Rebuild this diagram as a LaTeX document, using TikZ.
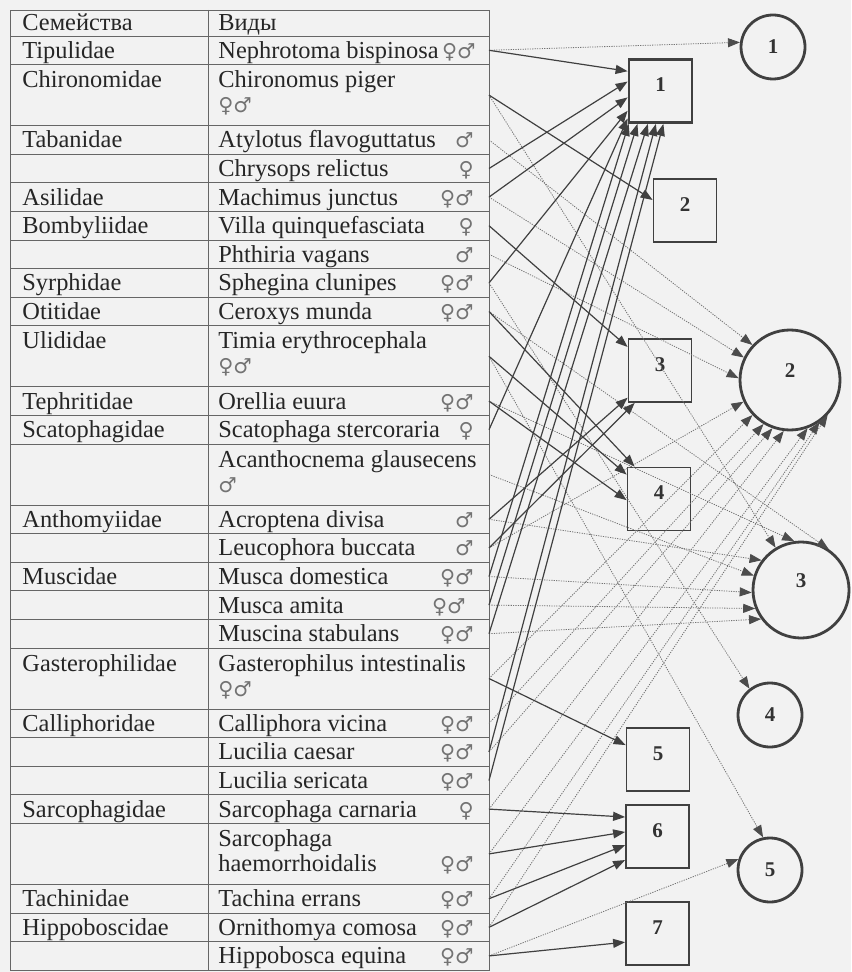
\documentclass[tikz,border=0pt]{standalone}
\usepackage{fontspec}
\setmainfont{Liberation Serif}
\newfontfamily\symfont{DejaVu Sans}
\usetikzlibrary{arrows.meta}

\begin{document}
\begin{tikzpicture}[
    x=0.5pt, y=-0.5pt,
    txt/.style={anchor=base west,inner sep=0pt,font=\fontsize{12.2}{14}\selectfont,text=black!85},
    sex/.style={anchor=base east,inner sep=0pt,font=\symfont\fontsize{10.3}{12}\selectfont,text=black!55},
    sexl/.style={sex,anchor=base west},
    grid/.style={draw=black!60,line width=0.45pt},
    box/.style={rectangle,draw=black!75,line width=0.9pt,minimum size=31.5pt,inner sep=0pt,
                font=\fontsize{10.5}{10.5}\selectfont\bfseries,text=black!80,text depth=6pt},
    ring/.style={circle,draw=black!75,line width=1.4pt,minimum size=#1,inner sep=0pt,
                 font=\fontsize{10.5}{10.5}\selectfont\bfseries,text=black!80},
    ring/.default=32pt,
    host/.style={-{Triangle[length=6pt,width=4.5pt]},draw=black!75,line width=0.6pt},
    link/.style={-{Triangle[length=6pt,width=4.5pt,color=black!70]},draw=black!55,
                 line width=0.4pt,dash pattern=on 0.6pt off 0.6pt}
]
    \path[use as bounding box,fill=black!5] (0,0) rectangle (851,972);

    % table frame
    \draw[grid] (10,10) rectangle (489,970.2);
    \draw[grid] (208,10) -- (208,970.2);
    \foreach \y in {36,64.6,125.6,154.2,182.8,211.4,240,268.6,297.2,325.8,386.8,415.4,444,
                    505,533.6,562.2,590.8,619.4,648,709,737.6,766.2,794.8,823.4,884.4,913,941.6}
        \draw[grid] (10,\y) -- (489,\y);

    % header
    \node[txt] (h-fam) at (22,31) {Семейства};
    \node[txt] (h-sp)  at (218,31) {Виды};

    % families
    \node[txt] (f-tipu) at (22,58.3)  {Tipulidae};
    \node[txt] (f-chir) at (22,87.6)  {Chironomidae};
    \node[txt] (f-taba) at (22,147.9) {Tabanidae};
    \node[txt] (f-asil) at (22,205.1) {Asilidae};
    \node[txt] (f-bomb) at (22,233.7) {Bombyliidae};
    \node[txt] (f-syrp) at (22,290.9) {Syrphidae};
    \node[txt] (f-otit) at (22,319.5) {Otitidae};
    \node[txt] (f-ulid) at (22,348.8) {Ulididae};
    \node[txt] (f-teph) at (22,409.1) {Tephritidae};
    \node[txt] (f-scat) at (22,437.7) {Scatophagidae};
    \node[txt] (f-anth) at (22,527.3) {Anthomyiidae};
    \node[txt] (f-musc) at (22,584.5) {Muscidae};
    \node[txt] (f-gast) at (22,671)   {Gasterophilidae};
    \node[txt] (f-call) at (22,731.3) {Calliphoridae};
    \node[txt] (f-sarc) at (22,817.1) {Sarcophagidae};
    \node[txt] (f-tach) at (22,906.7) {Tachinidae};
    \node[txt] (f-hipp) at (22,935.3) {Hippoboscidae};

    % species with sex marks
    \node[txt] (neph) at (218,58.3)  {Nephrotoma bispinosa};    \node[sex] (neph-x) at (476,58.3)  {♀♂};
    \node[txt] (chir) at (218,87.6)  {Chironomus piger};        \node[sexl] (chir-x) at (218,112.6) {♀♂};
    \node[txt] (atyl) at (218,147.9) {Atylotus flavoguttatus};  \node[sex] (atyl-x) at (474,147.9) {♂};
    \node[txt] (chry) at (218,176.5) {Chrysops relictus};       \node[sex] (chry-x) at (474,176.5) {♀};
    \node[txt] (mach) at (218,205.1) {Machimus junctus};        \node[sex] (mach-x) at (474,205.1) {♀♂};
    \node[txt] (vill) at (218,233.7) {Villa quinquefasciata};   \node[sex] (vill-x) at (474,233.7) {♀};
    \node[txt] (phth) at (218,262.3) {Phthiria vagans};         \node[sex] (phth-x) at (474,262.3) {♂};
    \node[txt] (sphe) at (218,290.9) {Sphegina clunipes};       \node[sex] (sphe-x) at (474,290.9) {♀♂};
    \node[txt] (cero) at (218,319.5) {Ceroxys munda};           \node[sex] (cero-x) at (474,319.5) {♀♂};
    \node[txt] (timi) at (218,348.8) {Timia erythrocephala};    \node[sexl] (timi-x) at (218,373.8) {♀♂};
    \node[txt] (orel) at (218,409.1) {Orellia euura};           \node[sex] (orel-x) at (474,409.1) {♀♂};
    \node[txt] (scat) at (218,437.7) {Scatophaga stercoraria};  \node[sex] (scat-x) at (474,437.7) {♀};
    \node[txt] (acan) at (218,467)   {Acanthocnema glausecens}; \node[sexl] (acan-x) at (218,492) {♂};
    \node[txt] (acro) at (218,527.3) {Acroptena divisa};        \node[sex] (acro-x) at (474,527.3) {♂};
    \node[txt] (leuc) at (218,555.9) {Leucophora buccata};      \node[sex] (leuc-x) at (474,555.9) {♂};
    \node[txt] (musd) at (218,584.5) {Musca domestica};         \node[sex] (musd-x) at (474,584.5) {♀♂};
    \node[txt] (amit) at (218,613.1) {Musca amita};             \node[sex] (amit-x) at (466,613.1) {♀♂};
    \node[txt] (musc) at (218,641.7) {Muscina stabulans};       \node[sex] (musc-x) at (474,641.7) {♀♂};
    \node[txt] (gast) at (218,671)   {Gasterophilus intestinalis}; \node[sexl] (gast-x) at (218,696) {♀♂};
    \node[txt] (call) at (218,731.3) {Calliphora vicina};       \node[sex] (call-x) at (474,731.3) {♀♂};
    \node[txt] (caes) at (218,759.9) {Lucilia caesar};          \node[sex] (caes-x) at (474,759.9) {♀♂};
    \node[txt] (seri) at (218,788.5) {Lucilia sericata};        \node[sex] (seri-x) at (474,788.5) {♀♂};
    \node[txt] (carn) at (218,817.1) {Sarcophaga carnaria};     \node[sex] (carn-x) at (474,817.1) {♀};
    \node[txt] (haem) at (218,846.4) {Sarcophaga};
    \node[txt] (haem-b) at (218,871.4) {haemorrhoidalis};       \node[sex] (haem-x) at (474,871.4) {♀♂};
    \node[txt] (tach) at (218,906.7) {Tachina errans};          \node[sex] (tach-x) at (474,906.7) {♀♂};
    \node[txt] (orni) at (218,935.3) {Ornithomya comosa};       \node[sex] (orni-x) at (474,935.3) {♀♂};
    \node[txt] (hipp) at (218,963.9) {Hippobosca equina};       \node[sex] (hipp-x) at (474,963.9) {♀♂};

    % row exits on the right border
    \foreach \n/\y in {neph/50.3,chir/95.1,atyl/139.9,chry/168.5,mach/197.1,vill/225.7,
                       phth/254.3,sphe/282.9,cero/311.5,timi/356.3,orel/401.1,scat/429.7,
                       acan/474.5,acro/519.3,leuc/547.9,musd/576.5,amit/605.1,musc/633.7,
                       gast/678.5,call/723.3,caes/751.9,seri/780.5,carn/809.1,haem/853.9,
                       tach/898.7,orni/927.3,hipp/955.9}
        \coordinate (\n-e) at (489,\y);

    % groups (squares) and circles
    \node[box,line width=1.4pt] (sq1) at (660.5,91) {1};
    \node[box] (sq2) at (685,210.5)   {2};
    \node[box] (sq3) at (660,370.5)   {3};
    \node[box] (sq4) at (659,499)     {4};
    \node[box] (sq5) at (658,759.5)   {5};
    \node[box] (sq6) at (657.5,836.5) {6};
    \node[box] (sq7) at (657.5,933.5) {7};
    \node[ring] (c1) at (773,47)  {1};
    \node[ring=50pt,text depth=9pt] (c2) at (790,380) {2};
    \node[ring=48pt,text depth=9pt] (c3) at (801,590) {3};
    \node[ring] (c4) at (770,715) {4};
    \node[ring] (c5) at (770,870) {5};

    % dotted links to circles
    \draw[link] (neph-e) -- (c1.172);
    \draw[link] (atyl-e) -- (c2.137);
    \draw[link] (mach-e) -- (c2.154);
    \draw[link] (phth-e) -- (c2.178);
    \draw[link] (leuc-e) -- (c2.205);
    \draw[link] (gast-e) -- (c2.223);
    \draw[link] (call-e) -- (c2.239);
    \draw[link] (caes-e) -- (c2.250);
    \draw[link] (carn-e) -- (c2.263);
    \draw[link] (haem-e) -- (c2.290);
    \draw[link] (tach-e) -- (c2.305);
    \draw[link] (orni-e) -- (c2.317);
    \draw[link] (chir-e) -- (c3.121);
    \draw[link] (orel-e) -- (c3.98);
    \draw[link] (cero-e) -- (c3.56);
    \draw[link] (acro-e) -- (c3.143);
    \draw[link] (acan-e) -- (c3.163);
    \draw[link] (musd-e) -- (c3.183);
    \draw[link] (amit-e) -- (c3.202);
    \draw[link] (musc-e) -- (c3.216);
    \draw[link] (sphe-e) -- (c4.128);
    \draw[link] (timi-e) -- (c5.102);
    \draw[link] (hipp-e) -- (c5.161);

    % solid arrows to squares
    \draw[host] (neph-e) -- (sq1.149);
    \draw[host] (chry-e) -- (sq1.164);
    \draw[host] (mach-e) -- (sq1.191);
    \draw[host] (sphe-e) -- (sq1.211);
    \draw[host] (scat-e) -- (sq1.220);
    \draw[host] (musd-e) -- (sq1.226);
    \draw[host] (amit-e) -- (sq1.235);
    \draw[host] (musc-e) -- (sq1.249);
    \draw[host] (caes-e) -- (sq1.262);
    \draw[host] (seri-e) -- (sq1.275);
    \draw[host] (chir-e) -- (sq2.162);
    \draw[host] (vill-e) -- (sq3.144);
    \draw[host] (acro-e) -- (sq3.220);
    \draw[host] (leuc-e) -- (sq3.232);
    \draw[host] (cero-e) -- (sq4.127);
    \draw[host] (timi-e) -- (sq4.143);
    \draw[host] (orel-e) -- (sq4.182);
    \draw[host] (gast-e) -- (sq5.156);
    \draw[host] (carn-e) -- (sq6.149);
    \draw[host] (haem-e) -- (sq6.172);
    \draw[host] (tach-e) -- (sq6.195);
    \draw[host] (orni-e) -- (sq6.216);
    \draw[host] (hipp-e) -- (sq7.195);
\end{tikzpicture}
\end{document}
